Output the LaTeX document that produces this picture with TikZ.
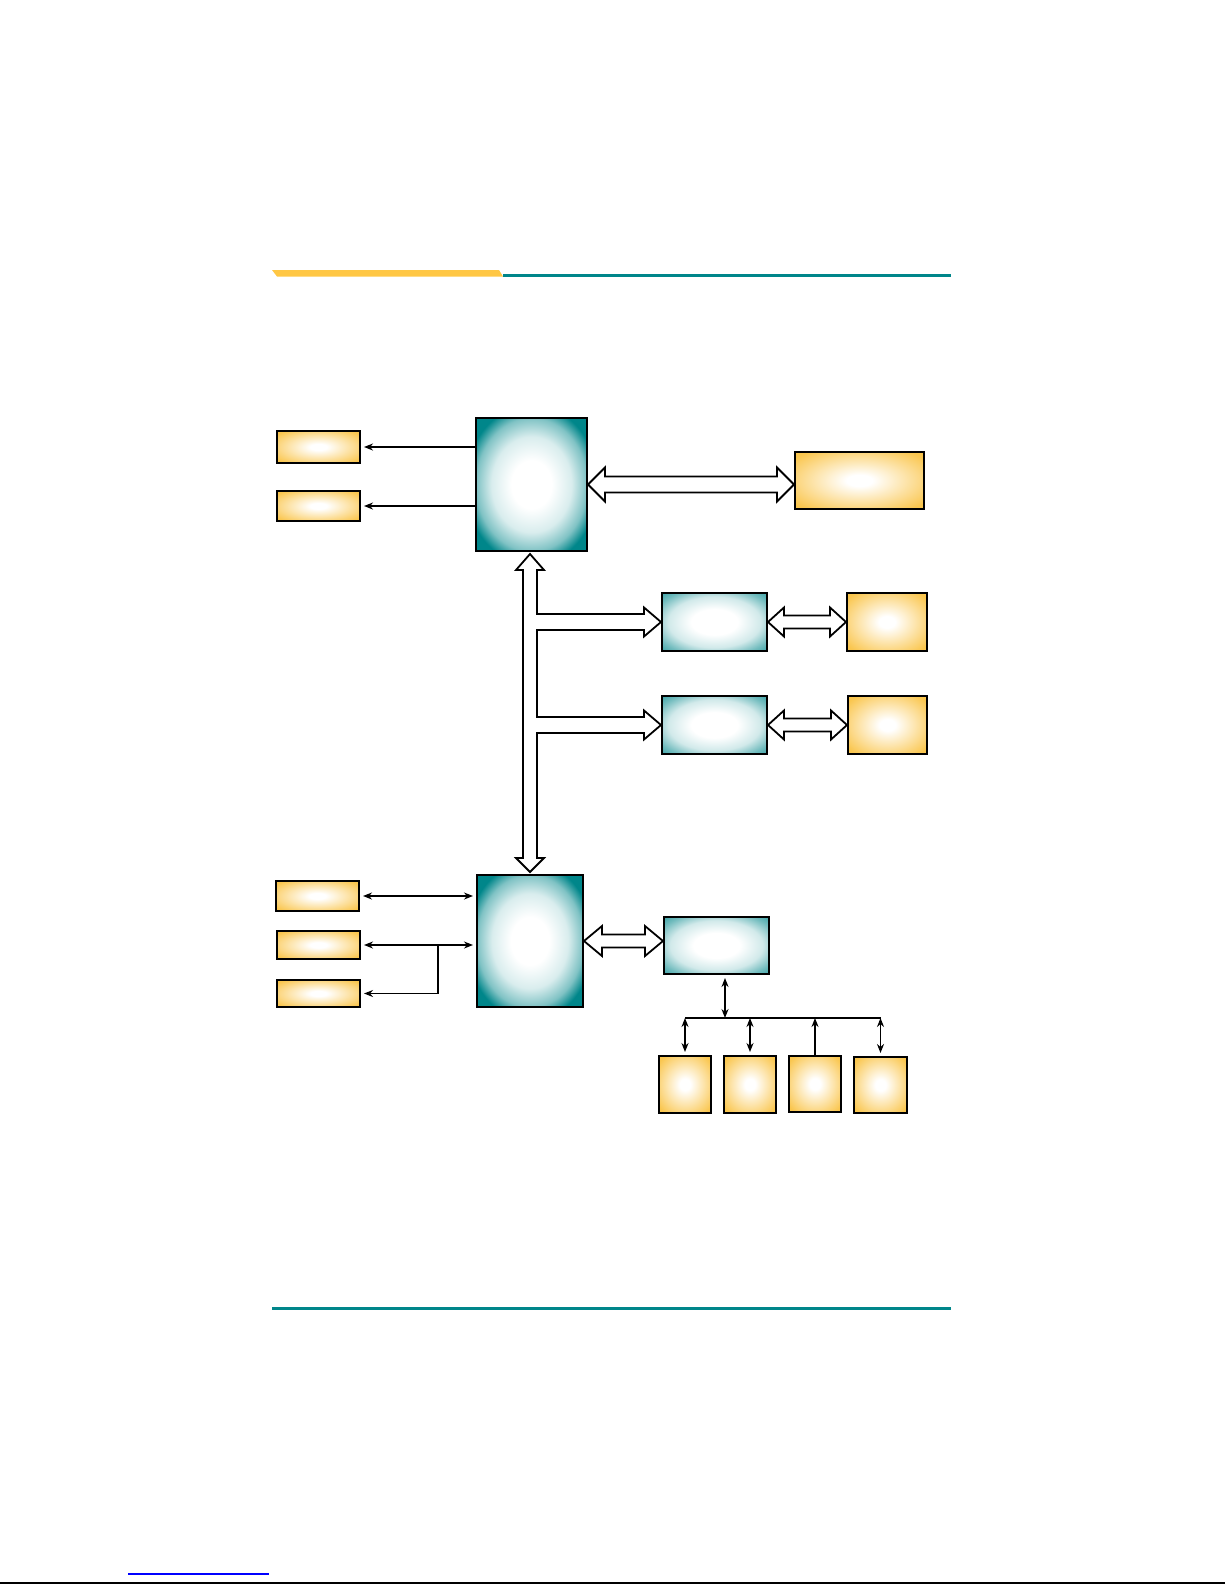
\documentclass[tikz,border=0pt]{standalone}
\usepackage{pgf, tikz}
\usepackage{xcolor}
\usetikzlibrary{arrows.meta,calc}

\definecolor{chipteal}{RGB}{0,134,138}
\definecolor{portgold}{RGB}{250,198,78}
\definecolor{baryellow}{RGB}{255,199,68}

\pgfdeclareradialshading{bigglow}{\pgfpoint{0bp}{0bp}}{color(0bp)=(white); color(9bp)=(white); color(18bp)=(white!85!chipteal); color(25bp)=(white!50!chipteal); color(30bp)=(chipteal); color(50bp)=(chipteal)}
\pgfdeclareradialshading{smallglow}{\pgfpoint{0bp}{0bp}}{color(0bp)=(white); color(11bp)=(white); color(22bp)=(white!82!chipteal); color(30bp)=(white!45!chipteal); color(42bp)=(chipteal); color(50bp)=(chipteal)}
\pgfdeclareradialshading{goldglow}{\pgfpoint{0bp}{0bp}}{color(0bp)=(white); color(5bp)=(white); color(32bp)=(portgold); color(50bp)=(portgold)}

% hollow double arrow between two tips on one level
\newcommand{\hollowpair}[5]{%
  \draw[hollow] let \p1 = (#1), \p2 = (#2) in
    (\x1,\y1) -- (\x1+#5,\y1+#4) -- (\x1+#5,\y1+#3) -- (\x2-#5,\y1+#3)
    -- (\x2-#5,\y1+#4) -- (\x2,\y1) -- (\x2-#5,\y1-#4) -- (\x2-#5,\y1-#3)
    -- (\x1+#5,\y1-#3) -- (\x1+#5,\y1-#4) -- cycle;}

\begin{document}
\begin{tikzpicture}[
            x = 0.5pt, y = -0.5pt, % page pixels
            > = {Stealth[length=4.5pt,width=3.5pt]}, % arrow head style
            chip/.style = {draw=black, line width=1pt, shading=bigglow, inner sep=0pt},
            hub/.style = {draw=black, line width=1pt, shading=smallglow, inner sep=0pt},
            port/.style = {draw=black, line width=1pt, shading=goldglow, inner sep=0pt},
            wire/.style = {line width=0.9pt, shorten > = 1.5pt},
            hollow/.style = {draw=black, fill=white, line width=0.9pt, line join=miter}
        ]
\useasboundingbox (0,0) rectangle (1225,1585);

% page rules
\fill[baryellow] (272,270) -- (499,270) -- (503,276.5) -- (277,276.5) -- cycle;
\fill[chipteal] (503,273.5) rectangle (951,276.5);
\fill[chipteal] (272,1307) rectangle (951,1310);
\draw[blue, line width=0.75pt] (128,1574) -- (269,1574);
\draw[black, line width=1pt] (0,1583) -- (1225,1583);

% upper chip
\node[chip, minimum width=55.5pt, minimum height=66.5pt] (U) at (531.5,484.5) {};
\node[port, minimum width=41.5pt, minimum height=16pt] (L1) at (318.5,447) {};
\node[port, minimum width=41.5pt, minimum height=15pt] (L2) at (318.5,506) {};
\node[port, minimum width=64.5pt, minimum height=28.5pt] (R) at (859.5,480.5) {};

% middle bridges
\node[hub, minimum width=52.5pt, minimum height=29pt] (B1) at (714.5,622) {};
\node[port, minimum width=40pt, minimum height=29pt] (Y1) at (887,622) {};
\node[hub, minimum width=52.5pt, minimum height=29pt] (B2) at (714.5,725) {};
\node[port, minimum width=39.5pt, minimum height=29pt] (Y2) at (887.5,725) {};

% lower chip
\node[chip, minimum width=53pt, minimum height=66pt] (S) at (530,941) {};
\node[port, minimum width=41.5pt, minimum height=15pt] (L3) at (317.5,896) {};
\node[port, minimum width=41.5pt, minimum height=14pt] (L4) at (318.5,945) {};
\node[port, minimum width=41.5pt, minimum height=13.5pt] (L5) at (318.5,993.5) {};
\node[hub, minimum width=52.5pt, minimum height=28.5pt] (D) at (716.5,945.5) {};

\node[port, minimum width=26pt, minimum height=28.5pt] (E1) at (685,1084.5) {};
\node[port, minimum width=26pt, minimum height=28.5pt] (E2) at (750,1084.5) {};
\node[port, minimum width=26pt, minimum height=28pt] (E3) at (815,1084) {};
\node[port, minimum width=26.5pt, minimum height=28pt] (E4) at (880.5,1085) {};

% thin links
\draw[wire,->] (U.west |- L1.east) -- (L1.east);
\draw[wire,->] (U.west |- L2.east) -- (L2.east);
\draw[wire,<->, shorten < = 1.5pt] (L3.east) -- (L3.east -| S.west);
\draw[wire,<->, shorten < = 1.5pt] (L4.east) -- (L4.east -| S.west);
\coordinate (J) at ($(L4.east)!0.667!(L4.east -| S.west)$);
\draw[wire,->] (J) |- (L5.east);

\coordinate (T) at ($(D.south)+(8.5,43)$);
\draw[wire,<->, shorten < = 0pt] (T) -- (T |- D.south);
\draw[line width=0.9pt] (E1.north |- T) -- (E4.north |- T);
\foreach \e in {E1,E2,E4}
    \draw[wire,<->, shorten < = 0pt] (\e.north |- T) -- (\e.north);
\draw[wire,->, shorten > = 0pt] (E3.north) -- (E3.north |- T);

% wide buses
\hollowpair{U.east}{U.east -| R.west}{4pt}{8.5pt}{8.5pt}
\hollowpair{B1.east}{B1.east -| Y1.west}{3.25pt}{7.25pt}{8pt}
\hollowpair{B2.east}{B2.east -| Y2.west}{3.25pt}{7.25pt}{8pt}
\hollowpair{S.east}{S.east -| D.west}{3.25pt}{7.5pt}{9pt}

\draw[hollow] let \p1 = (U.south), \p2 = (S.north), \p3 = (B1.west), \p4 = (B2.west) in
  (\x2,\y1-1pt) -- (\x2+7pt,\y1-9pt) -- (\x2+3.5pt,\y1-9pt)
  -- (\x2+3.5pt,\y3+4pt) -- (\x3-8.5pt,\y3+4pt) -- (\x3-8.5pt,\y3+7.25pt) -- (\x3,\y3)
  -- (\x3-8.5pt,\y3-7.25pt) -- (\x3-8.5pt,\y3-4pt) -- (\x2+3.5pt,\y3-4pt)
  -- (\x2+3.5pt,\y4+4pt) -- (\x4-8.5pt,\y4+4pt) -- (\x4-8.5pt,\y4+7.25pt) -- (\x4,\y4)
  -- (\x4-8.5pt,\y4-7.25pt) -- (\x4-8.5pt,\y4-4pt) -- (\x2+3.5pt,\y4-4pt)
  -- (\x2+3.5pt,\y2+8pt) -- (\x2+7pt,\y2+8pt) -- (\x2,\y2+1pt) -- (\x2-7pt,\y2+8pt)
  -- (\x2-3.5pt,\y2+8pt) -- (\x2-3.5pt,\y1-9pt) -- (\x2-7pt,\y1-9pt) -- cycle;

\end{tikzpicture}
\end{document}
